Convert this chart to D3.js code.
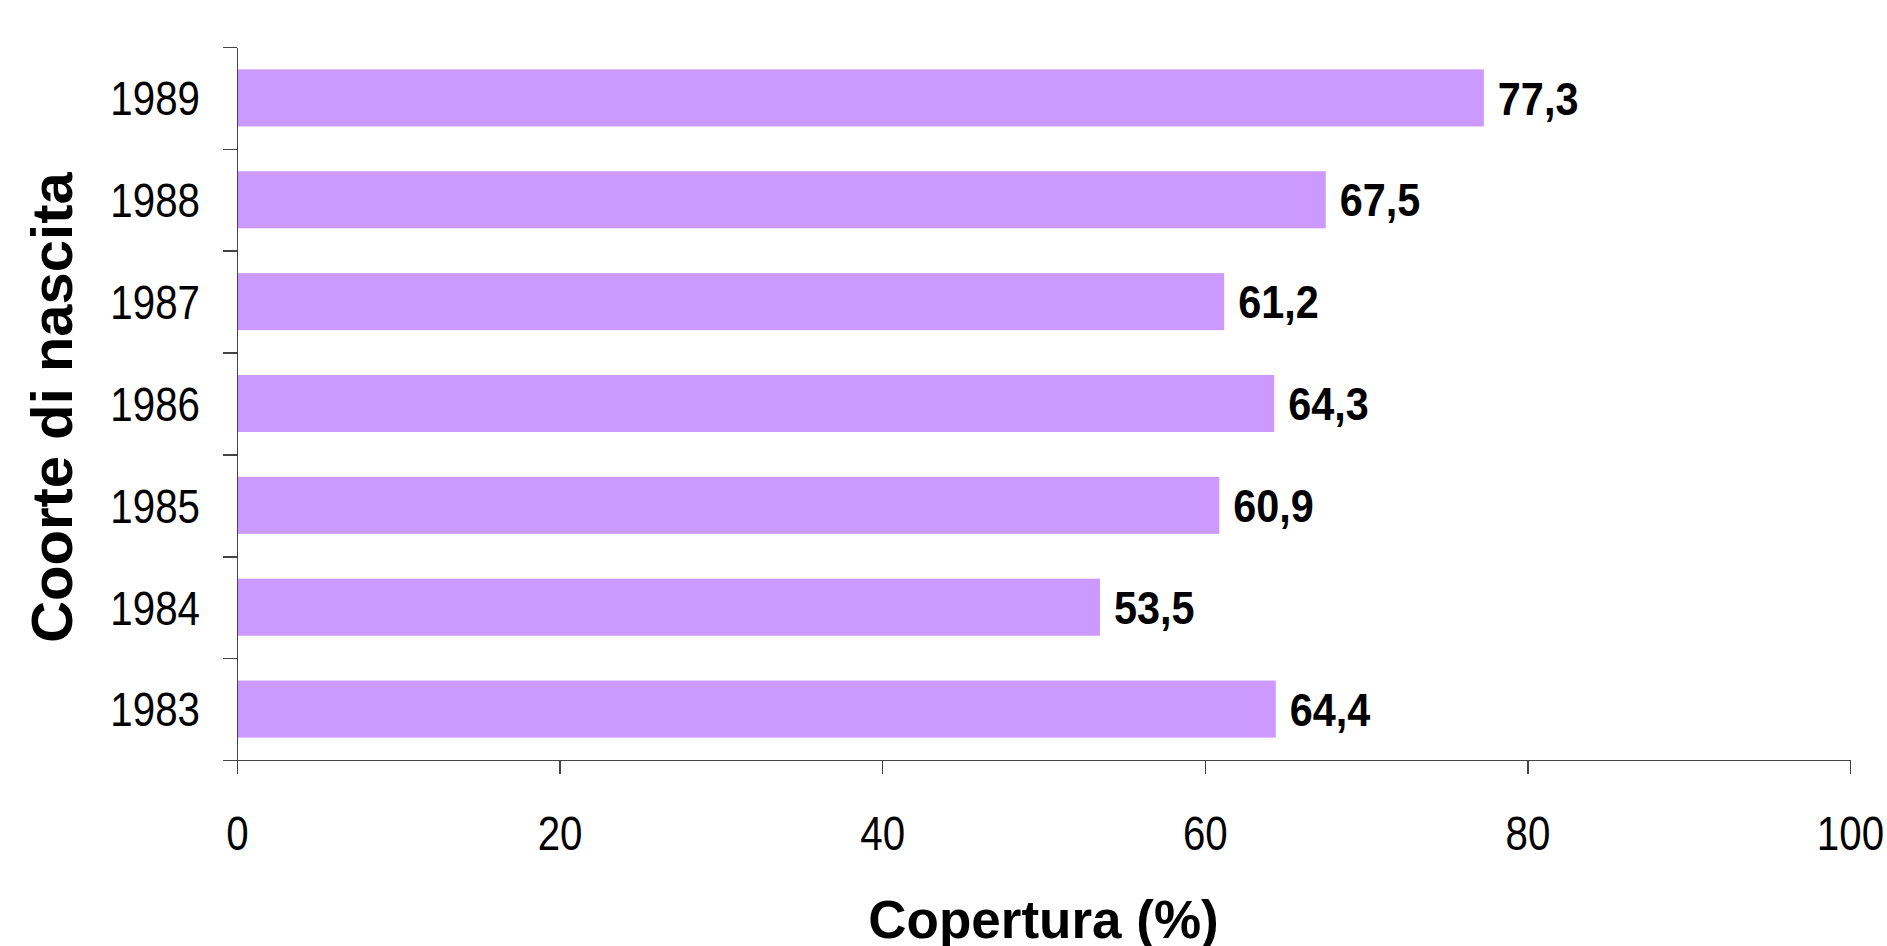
<!DOCTYPE html>
<html>
<head>
<meta charset="utf-8">
<script src="https://cdn.jsdelivr.net/npm/d3@7"></script>
<style>
  body { margin: 0; background: #fff; }
  svg { display: block; font-family: "Liberation Sans", Arial, sans-serif; }
  .axis path, .axis line { stroke: #444; stroke-width: 1.5px; shape-rendering: crispEdges; }
  .axis text { fill: #000; font-size: 48px; }
  .val { font-size: 46px; font-weight: bold; fill: #000; }
  .title { font-weight: bold; fill: #000; }
</style>
</head>
<body>
<div id="chart"></div>
<script>
var cohorts = ["1983", "1984", "1985", "1986", "1987", "1988", "1989"];
var coverage = [64.4, 53.5, 60.9, 64.3, 61.2, 67.5, 77.3];
var xTicks = [0, 20, 40, 60, 80, 100];

var W = 1887, H = 946;
var margin = {top: 47, right: 37, bottom: 186, left: 237};
var width = W - margin.left - margin.right,
    height = H - margin.top - margin.bottom;
var squeeze = 0.84; // text in the original is a bit narrow

var svg = d3.select("#chart").append("svg")
    .attr("width", W)
    .attr("height", H);

var g = svg.append("g")
    .attr("transform", "translate(" + margin.left + "," + margin.top + ")");

var x = d3.scaleLinear().domain([0, 100]).range([0, width]);

/* top of chart is the last cohort */
var y = d3.scaleBand()
    .domain(cohorts.slice().reverse())
    .range([0, height])
    .paddingInner(0.44)
    .paddingOuter(0.22);

/* tick marks sit on the band boundaries */
var yEdge = d3.scaleLinear().domain([0, cohorts.length]).range([height, 0]);

var data = cohorts.map(function(c, i) { return {c: c, v: coverage[i]}; });

g.selectAll(".bar")
  .data(data)
  .enter().append("rect")
    .attr("class", "bar")
    .attr("x", x(0))
    .attr("y", function(d) { return y(d.c); })
    .attr("width", function(d) { return x(d.v) - x(0); })
    .attr("height", y.bandwidth())
    .attr("fill", "#cc99ff");

g.selectAll(".val")
  .data(data)
  .enter().append("text")
    .attr("class", "val")
    .attr("transform", function(d) {
      return "translate(" + (x(d.v) + 14) + "," + (y(d.c) + y.bandwidth() / 2) + ") scale(0.9,1)";
    })
    .attr("dy", "0.36em")
    .text(function(d) { return d3.format(".1f")(d.v).replace(".", ","); });

var gX = g.append("g")
    .attr("class", "axis axis--x")
    .attr("transform", "translate(0," + height + ")")
    .call(d3.axisBottom(x).tickValues(xTicks).tickSize(14).tickSizeOuter(0));
gX.selectAll("text")
    .attr("y", 90)
    .attr("dy", 0)
    .attr("transform", "scale(" + squeeze + ",1)");

var gYt = g.append("g")
    .attr("class", "axis axis--y")
    .call(d3.axisLeft(yEdge).tickValues(d3.range(cohorts.length + 1)).tickSize(14).tickSizeOuter(0).tickFormat(""));

var gY = g.append("g")
    .attr("class", "axis axis--ylab")
    .call(d3.axisLeft(y).tickSize(0));
gY.select(".domain").remove();
gY.selectAll("text")
    .attr("x", -37 / squeeze)
    .attr("dy", "0.36em")
    .attr("transform", "scale(" + squeeze + ",1)");

svg.append("text")
    .attr("class", "title")
    .attr("x", margin.left + width / 2)
    .attr("y", 938)
    .attr("text-anchor", "middle")
    .style("font-size", "53px")
    .text("Copertura (%)");

svg.append("text")
    .attr("class", "title")
    .attr("transform", "translate(72," + (margin.top + height / 2 + 4) + ") rotate(-90)")
    .attr("text-anchor", "middle")
    .style("font-size", "58px")
    .text("Coorte di nascita");
</script>
</body>
</html>
